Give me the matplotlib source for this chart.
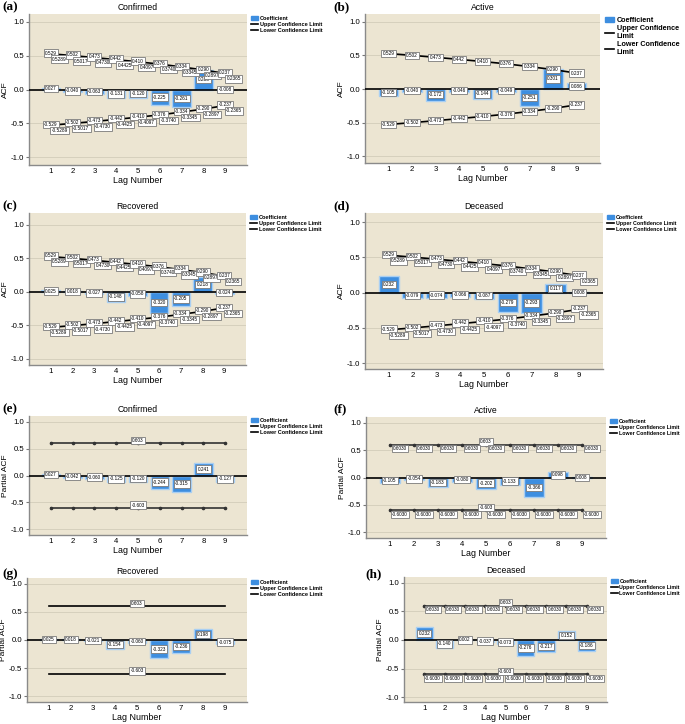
import matplotlib
matplotlib.use("Agg")
import matplotlib.pyplot as plt
from matplotlib.patches import Patch
from matplotlib.lines import Line2D

plt.rcParams['font.family'] = ['Liberation Sans', 'DejaVu Sans']
plt.rcParams['axes.unicode_minus'] = False

# ---- data ----
lags = [1, 2, 3, 4, 5, 6, 7, 8, 9]

acf_confirmed = [0.027, -0.040, -0.063, -0.131, -0.120, -0.225, -0.261, 0.288, -0.008]
acf_active = [-0.105, -0.040, -0.172, -0.046, -0.144, -0.049, -0.251, 0.301, 0.086]
acf_recovered = [0.025, 0.018, -0.027, -0.148, -0.058, -0.320, -0.205, 0.218, -0.024]
acf_deceased = [0.232, -0.079, -0.074, -0.066, -0.087, -0.279, -0.293, 0.117, 0.008]

pacf_confirmed = [0.027, -0.042, -0.060, -0.125, -0.120, -0.244, -0.315, 0.241, -0.127]
pacf_active = [-0.105, -0.054, -0.183, -0.080, -0.202, -0.133, -0.366, 0.098, 0.008]
pacf_recovered = [0.025, 0.018, -0.021, -0.154, -0.060, -0.323, -0.236, 0.198, -0.075]
pacf_deceased = [0.232, -0.140, 0.002, -0.037, -0.073, -0.276, -0.217, 0.152, -0.186]

# ACF confidence limits (3-decimal and 4-decimal labels as printed)
acf_limit = [0.529, 0.502, 0.473, 0.442, 0.410, 0.376, 0.334, 0.290, 0.237]
acf_limit_4 = [0.5289, 0.5017, 0.4730, 0.4425, 0.4097, 0.3740, 0.3345, 0.2897, 0.2365]
pacf_limit = [0.603] * 9

yticks = [-1.0, -0.5, 0.0, 0.5, 1.0]

BAR = '#3d8ee0'
BAR_EDGE = '#a9cff3'
BG = '#ece5d2'

W, H = 685, 724
fig = plt.figure(figsize=(W / 100, H / 100), dpi=100)


def rect(l, r, t, b):
    return [l / W, 1 - b / H, (r - l) / W, (b - t) / H]


def tag(ax, x, y, s, fs=3.4):
    ax.text(x, y, s, ha='center', va='center', fontsize=fs, zorder=6,
            bbox=dict(boxstyle='square,pad=0.25', fc='white', ec='#7a7a7a', lw=0.6))


def panel(px, ylim, title, ylabel, vals, upper, kind, legend_fs=4.0, wrap=False):
    l, r, t, b = px
    ax = fig.add_axes(rect(l, r, t, b))
    ax.set_facecolor(BG)
    ax.set_xlim(0, 10)
    ax.set_ylim(*ylim)
    for g in [-1.0, -0.5, 0.5, 1.0]:
        ax.axhline(g, color='#d6d0bd', lw=0.7, zorder=1)
    ax.bar(lags, vals, width=0.85, color=BAR, edgecolor=BAR_EDGE, lw=1.0, zorder=2)
    ax.axhline(0, color='black', lw=1.2, zorder=3)
    lower = [-u for u in upper]
    marker = 'o' if kind in ('pacf_m', 'pacf_full') else None
    lc = '#333333' if marker else 'black'
    ax.plot(lags, upper, color=lc, lw=1.2, marker=marker, ms=1.6, zorder=4)
    ax.plot(lags, lower, color=lc, lw=1.2, marker=marker, ms=1.6, zorder=4)

    for x, v in zip(lags, vals):
        tag(ax, x, v / 2, f"{v:.3f}")

    if kind == 'acf2':
        for x, u, u4 in zip(lags, upper, acf_limit_4):
            tag(ax, x, u + 0.01, f"{u:.3f}")
            tag(ax, x + 0.4, u - 0.08, f"{u4:.4f}")
            tag(ax, x, -u + 0.01, f"{-u:.3f}")
            tag(ax, x + 0.4, -u - 0.08, f"{-u4:.4f}")
    elif kind == 'acf1':
        for x, u in zip(lags, upper):
            tag(ax, x, u, f"{u:.3f}")
            tag(ax, x, -u, f"{-u:.3f}")
    else:
        tag(ax, 5, upper[4] + 0.05, f"{upper[4]:.3f}")
        tag(ax, 5, -upper[4] + 0.05, f"{-upper[4]:.3f}")
        if kind == 'pacf_full':
            for x, u in zip(lags, upper):
                tag(ax, x + 0.42, u - 0.07, f"{u:.4f}")
                tag(ax, x + 0.42, -u - 0.07, f"{-u:.4f}")

    ax.set_xticks(lags)
    ax.set_yticks(yticks)
    ax.set_yticklabels([f"{t:.1f}" for t in yticks])
    ax.tick_params(labelsize=5.6, length=2, color='#777777', pad=1.5)
    ax.tick_params(axis='x', length=0, pad=2.5)
    for s in ('top', 'right'):
        ax.spines[s].set_visible(False)
    for s in ('left', 'bottom'):
        ax.spines[s].set_color('#8a8a8a')
        ax.spines[s].set_linewidth(1.0)
    ax.set_title(title, fontsize=6.2, pad=3)
    ax.set_xlabel('Lag Number', fontsize=6.4, labelpad=0.5)
    ax.set_ylabel(ylabel, fontsize=6.0)
    # y label sits about 20 px left of the axes, close to the figure edge
    ax.yaxis.set_label_coords(-20 / (r - l), 0.5)

    if wrap:
        labels = ['Coefficient', 'Upper Confidence\nLimit', 'Lower Confidence\nLimit']
    else:
        labels = ['Coefficient', 'Upper Confidence Limit', 'Lower Confidence Limit']
    handles = [Patch(fc=BAR, ec=BAR),
               Line2D([], [], color='black', lw=1.2),
               Line2D([], [], color='black', lw=1.2)]
    ax.legend(handles, labels, loc='upper left', bbox_to_anchor=(1.008, 1.0),
              frameon=False, borderaxespad=0,
              handlelength=1.3, handleheight=0.8, handletextpad=0.35,
              labelspacing=0.15, prop={'weight': 'bold', 'size': legend_fs})
    return ax


panel((29, 247, 14, 165), (-1.118, 1.118), 'Confirmed', 'ACF', acf_confirmed, acf_limit, 'acf2')
panel((365, 600, 14, 163), (-1.104, 1.119), 'Active', 'ACF', acf_active, acf_limit, 'acf1',
      legend_fs=5.2, wrap=True)
panel((29, 246, 213, 365), (-1.09, 1.179), 'Recovered', 'ACF', acf_recovered, acf_limit, 'acf2')
panel((365, 603, 213, 369), (-1.085, 1.128), 'Deceased', 'ACF', acf_deceased, acf_limit, 'acf2',
      legend_fs=3.8)
panel((29, 247, 416, 535), (-1.112, 1.112), 'Confirmed', 'Partial ACF', pacf_confirmed, pacf_limit, 'pacf_m')
panel((366, 606, 417, 538), (-1.11, 1.11), 'Active', 'Partial ACF', pacf_active, pacf_limit, 'pacf_full',
      legend_fs=3.8)
panel((27, 247, 578, 702), (-1.106, 1.106), 'Recovered', 'Partial ACF', pacf_recovered, pacf_limit, 'pacf')
panel((404, 607, 577, 702), (-1.086, 1.103), 'Deceased', 'Partial ACF', pacf_deceased, pacf_limit, 'pacf_full',
      legend_fs=3.8)

letters = [('(a)', 2, 1), ('(b)', 333, 1), ('(c)', 2, 200), ('(d)', 333, 200),
           ('(e)', 2, 403), ('(f)', 333, 403), ('(g)', 2, 568), ('(h)', 365, 568)]
for s, x, y in letters:
    fig.text(x / W, 1 - y / H, s, ha='left', va='top', fontsize=9.5, fontweight='bold',
             family='Liberation Serif')

fig.savefig('out.png', dpi=100)
